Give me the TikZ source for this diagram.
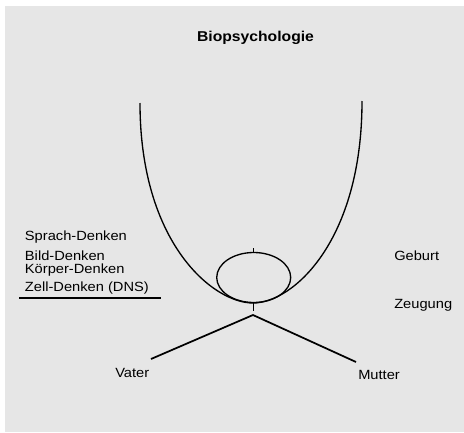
\documentclass[tikz,border=0pt]{standalone}
\usepackage{fontspec}
\setmainfont{Liberation Sans}[FakeStretch=1.1]
\definecolor{paper}{HTML}{E6E6E6}
\begin{document}
\begin{tikzpicture}
		[
		x=0.75pt,y=-0.75pt,
		txt/.style={
		anchor=base west,
		inner sep=0pt,
		font=\fontsize{10pt}{11pt}\selectfont},
		curve/.style={line width=1pt},
		branch/.style={line width=1.3pt}
		]
		\useasboundingbox (0,0) rectangle (464,432);
		\fill[paper] (5,6) rectangle (464,432);
		\node[txt,anchor=base,font=\bfseries\fontsize{10.7pt}{12pt}\selectfont](title) at (255.5,41.7) {Biopsychologie};
		\node[txt](sprach) at (24.7,240) {Sprach-Denken};
		\node[txt](bild) at (24.7,260) {Bild-Denken};
		\node[txt](koerper) at (24.7,273.3) {Körper-Denken};
		\node[txt](zell) at (24.7,291.7) {Zell-Denken (DNS)};
		\draw[curve] (19,298) -- (161,298);
		\node[txt](geburt) at (394,260) {Geburt};
		\node[txt](zeugung) at (394,308) {Zeugung};
		\node[txt](vater) at (115,377.7) {Vater};
		\node[txt](mutter) at (358,379) {Mutter};
		\draw[curve] (140,103) .. controls (140,243) and (213,303) .. (253,303)
		  .. controls (293,303) and (362,241) .. (362,101);
		\draw[curve] (253.7,277.5) ellipse [x radius=37, y radius=25];
		\draw (253,248) -- (253,253);
		\draw (253,303) -- (253,311);
		\coordinate (apex) at (253,315);
		\coordinate (vend) at (151,359);
		\coordinate (mend) at (356,362);
		\draw[branch] (vend) -- (apex) -- (mend);
\end{tikzpicture}
\end{document}
